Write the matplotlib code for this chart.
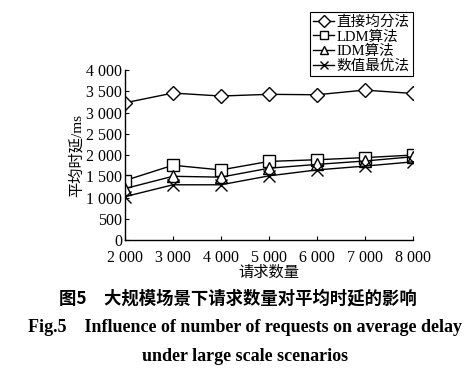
import matplotlib
matplotlib.use("Agg")
import matplotlib.pyplot as plt
from matplotlib.ticker import FuncFormatter

plt.rcParams['font.family'] = ['Liberation Serif', 'Noto Sans CJK SC']

# data
requests = [2000, 3000, 4000, 5000, 6000, 7000, 8000]
direct_avg = [3230, 3460, 3390, 3430, 3420, 3530, 3450]   # 直接均分法
ldm = [1400, 1760, 1650, 1850, 1890, 1940, 2000]          # LDM算法
idm = [1210, 1500, 1480, 1690, 1780, 1860, 1960]          # IDM算法
optimal = [1020, 1300, 1300, 1510, 1650, 1740, 1840]      # 数值最优法
labels = ['直接均分法', 'LDM算法', 'IDM算法', '数值最优法']
y_ticks = [0, 500, 1000, 1500, 2000, 2500, 3000, 3500, 4000]

fig = plt.figure(figsize=(4.75, 3.75), dpi=100)
ax = fig.add_axes([0.263, 0.36, 0.606, 0.453])

series = [direct_avg, ldm, idm, optimal]
markers = ['D', 's', '^', 'x']
sizes = [7, 8, 8, 8]
for vals, m, s, lab in zip(series, markers, sizes, labels):
    ax.plot(requests, vals, color='black', lw=1.0, marker=m, ms=s,
            mfc='white', mec='black', mew=1.0, label=lab)

ax.set_xlim(2000, 8000)
ax.set_ylim(0, 4000)
ax.set_xticks(requests)
ax.set_yticks(y_ticks)
sep = FuncFormatter(lambda v, p: f"{int(v):,}".replace(',', ' '))
ax.xaxis.set_major_formatter(sep)
ax.yaxis.set_major_formatter(sep)
ax.tick_params(direction='in', length=3, width=0.8, labelsize=11.5, pad=2)
ax.tick_params(axis='x', pad=7)
for sp in ['top', 'right']:
    ax.spines[sp].set_visible(False)
for sp in ['left', 'bottom']:
    ax.spines[sp].set_linewidth(1.0)

ax.set_ylabel('平均时延/ms', fontsize=11, labelpad=2)
ax.set_xlabel('请求数量', fontsize=11, labelpad=0)

leg = ax.legend(loc='upper right', bbox_to_anchor=(1.0, 1.34), fontsize=10.5,
                frameon=True, fancybox=False, edgecolor='black', framealpha=1,
                handlelength=1.4, handletextpad=0.2, borderpad=0.2,
                labelspacing=0.1, borderaxespad=0)
leg.get_frame().set_linewidth(0.8)
for h in leg.legend_handles:
    h.set_markersize(6)

fig.text(0.5, 0.205, '图5　大规模场景下请求数量对平均时延的影响',
         ha='center', va='center', fontsize=12.5, fontweight='bold',
         family=['Noto Sans CJK SC'])
fig.text(0.515, 0.128, 'Fig.5    Influence of number of requests on average delay',
         ha='center', va='center', fontsize=13, fontweight='bold')
fig.text(0.515, 0.05, 'under large scale scenarios',
         ha='center', va='center', fontsize=13, fontweight='bold')

fig.savefig('out.png', dpi=100)
